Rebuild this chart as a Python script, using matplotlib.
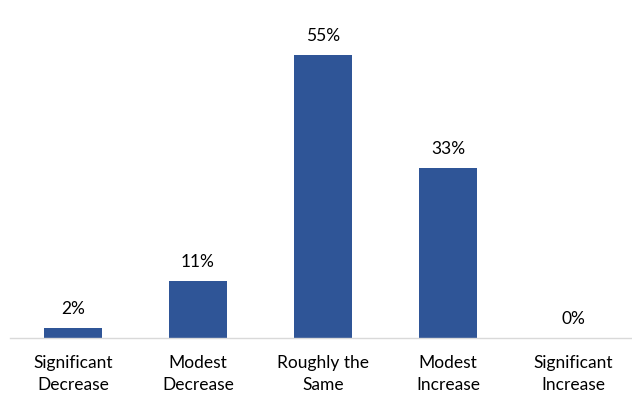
import matplotlib
matplotlib.use("Agg")
import matplotlib.pyplot as plt

categories = ["Significant\nDecrease", "Modest\nDecrease", "Roughly the\nSame", "Modest\nIncrease", "Significant\nIncrease"]
values = [2, 11, 55, 33, 0]
labels = ["2%", "11%", "55%", "33%", "0%"]

plt.rcParams['font.family'] = ['Lato', 'DejaVu Sans']

fig = plt.figure(figsize=(6.32, 3.93), dpi=100)
ax = fig.add_axes([0.0158, 0.14, 0.9842, 0.786])
x = list(range(len(values)))
bars = ax.bar(x, values, width=0.46, color="#2F5597")
for xi, v, lab in zip(x, values, labels):
    ax.annotate(lab, (xi, v), xytext=(0, 8), textcoords="offset points",
                ha="center", va="bottom", fontsize=12.5, color="#000000")
ax.set_xlim(-0.504, 4.472)
ax.set_ylim(0, 60)
ax.set_yticks([])
ax.set_xticks(x)
ax.set_xticklabels(categories, fontsize=12.5, linespacing=1.5)
ax.tick_params(axis="x", length=0, pad=12)
for s in ["top", "right", "left"]:
    ax.spines[s].set_visible(False)
ax.spines["bottom"].set_color("#D9D9D9")
ax.spines["bottom"].set_linewidth(1)
fig.savefig("out.png", dpi=100)
